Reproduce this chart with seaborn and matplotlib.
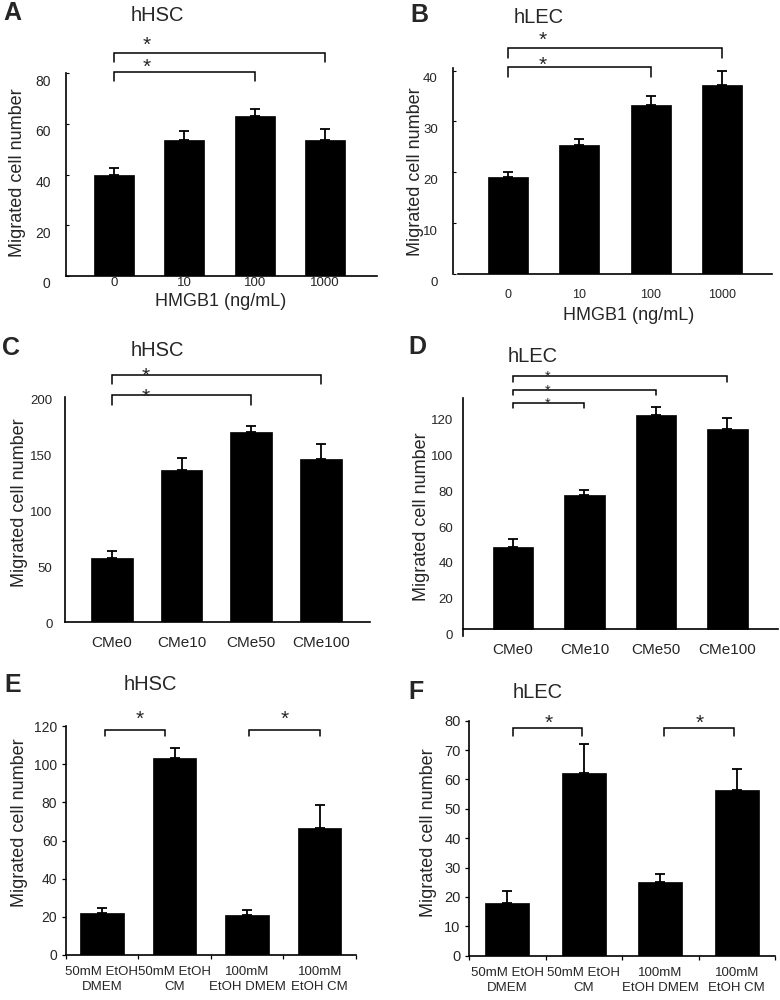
import numpy as np
import matplotlib
matplotlib.use("Agg")
import matplotlib.pyplot as plt
import matplotlib.transforms as mtransforms
import seaborn as sns

# ---------------- data ----------------
hmgb1_labels = ['0', '10', '100', '1000']
cme_labels = ['CMe0', 'CMe10', 'CMe50', 'CMe100']
etoh_labels = ['50mM EtOH\nDMEM', '50mM EtOH\nCM', '100mM\nEtOH DMEM', '100mM\nEtOH CM']

a_vals = [40, 53.5, 63, 53.5]
a_err = [2.4, 3.6, 3.0, 4.3]
b_vals = [19, 25.3, 33.2, 37.2]
b_err = [1.0, 1.3, 1.7, 2.7]
c_vals = [57, 135, 169, 145]
c_err = [5.5, 11, 5.5, 13.5]
d_vals = [46, 75, 120, 112]
d_err = [4.3, 3.2, 4.3, 6.4]
e_vals = [22.2, 103, 20.8, 66.4]
e_err = [2.3, 5.6, 2.8, 12.3]
f_vals = [18, 62.3, 25.2, 56.4]
f_err = [4.1, 9.8, 2.6, 7.3]

a_yticks = [0, 20, 40, 60, 80]
b_yticks = [0, 10, 20, 30, 40]
c_yticks = [0, 50, 100, 150, 200]
d_yticks = [0, 20, 40, 60, 80, 100, 120]
e_yticks = [0, 20, 40, 60, 80, 100, 120]
f_yticks = [0, 10, 20, 30, 40, 50, 60, 70, 80]

# ---------------- style ----------------
sns.set_theme(style='white')
plt.rcParams['font.family'] = ['Liberation Sans', 'DejaVu Sans']

W, H = 780, 1000
fig = plt.figure(figsize=(W / 100, H / 100), dpi=100)
fig.patch.set_facecolor('white')


def fx(x):
    return x / W


def fy(y):
    return 1 - y / H


def make_ax(l, r, t, b):
    return fig.add_axes([fx(l), fy(b), (r - l) / W, (b - t) / H])


def draw_panel(ax, cats, vals, errs, width, xlim, ylim, yticks, ytick_fs, xtick_fs):
    sns.barplot(x=cats, y=vals, ax=ax, color='black', saturation=1,
                width=width, errorbar=None, edgecolor='black', linewidth=0.5)
    pos = np.arange(len(vals))
    ax.errorbar(pos, vals, yerr=[np.zeros(len(errs)), errs], fmt='none',
                ecolor='black', elinewidth=1.3, capsize=3.4, capthick=1.3, zorder=3)
    ax.set_xlim(*xlim)
    ax.set_ylim(*ylim)
    ax.set_yticks(yticks)
    ax.set_yticklabels([str(v) for v in yticks], fontsize=ytick_fs)
    ax.set_xlabel('')
    ax.set_ylabel('')
    for s in ['top', 'right']:
        ax.spines[s].set_visible(False)
    for s in ['left', 'bottom']:
        ax.spines[s].set_color('black')
        ax.spines[s].set_linewidth(1.2)
    ax.set_facecolor('none')
    for lab in ax.get_xticklabels():
        lab.set_fontsize(xtick_fs)


def bracket(ax, x0, x1, ytop, ybot, sx, sy, fs=15):
    ax.plot([x0, x0, x1, x1], [ybot, ytop, ytop, ybot], color='black',
            lw=1.1, clip_on=False, solid_joinstyle='miter')
    ax.annotate('*', xy=(sx, sy), xytext=(0, -0.58 * fs), textcoords='offset points',
                ha='center', va='baseline', fontsize=fs, annotation_clip=False)


def shift_yticklabels(ax, px):
    off = mtransforms.ScaledTranslation(0, -px / 100, fig.dpi_scale_trans)
    for tick in ax.yaxis.get_major_ticks():
        tick.label1.set_transform(tick.label1.get_transform() + off)


# ---------------- Panel A ----------------
axA = make_ax(66, 377, 73, 276)
draw_panel(axA, hmgb1_labels, a_vals, a_err, 0.57, (-0.683, 3.74), (0, 80), a_yticks, 10, 9.5)
axA.tick_params(axis='y', direction='in', length=2.5, width=0.8, color='black', pad=11, left=True)
axA.tick_params(axis='x', length=0, pad=1, bottom=True)
bracket(axA, 0, 3, 87.9, 84.3, 0.47, 93.6)
bracket(axA, 0, 2, 80.4, 76.8, 0.47, 85.0)
shift_yticklabels(axA, 7)

# ---------------- Panel B ----------------
axB = make_ax(453, 772, 68, 274)
draw_panel(axB, hmgb1_labels, b_vals, b_err, 0.56, (-0.77, 3.70), (0, 40.5), b_yticks, 9.5, 9)
axB.tick_params(axis='y', direction='in', length=2.5, width=0.8, color='black', pad=11, left=True)
axB.tick_params(axis='x', length=0, pad=11, bottom=True)
axB.spines['bottom'].set_bounds(-0.70, 3.70)
bracket(axB, 0, 3, 44.4, 42.5, 0.49, 47.3)
bracket(axB, 0, 2, 40.6, 38.8, 0.49, 42.4)
shift_yticklabels(axB, 7)

# ---------------- Panel C ----------------
axC = make_ax(65, 370, 397, 621.7)
draw_panel(axC, cme_labels, c_vals, c_err, 0.6, (-0.67, 3.7), (0, 200), c_yticks, 9.5, 11)
axC.tick_params(axis='y', length=0, pad=9, left=True)
axC.tick_params(axis='x', length=0, pad=10, bottom=True)
bracket(axC, 0, 3, 219.9, 211.9, 0.48, 224.4)
bracket(axC, 0, 2, 201.5, 193.2, 0.48, 205.6)
shift_yticklabels(axC, 2)

# ---------------- Panel D ----------------
axD = make_ax(463, 778, 398, 636.3)
draw_panel(axD, cme_labels, d_vals, d_err, 0.57, (-0.70, 3.71), (-3.9, 129.5), d_yticks, 9.5, 11.5)
axD.spines['bottom'].set_position(('data', 0))
axD.tick_params(axis='y', length=0, pad=7, left=True)
axD.tick_params(axis='x', length=0, pad=10, bottom=True)
bracket(axD, 0, 3, 141.7, 138.5, 0.49, 143.6, fs=10.5)
bracket(axD, 0, 2, 134.2, 131.0, 0.49, 136.1, fs=10.5)
bracket(axD, 0, 1, 126.7, 123.9, 0.49, 128.6, fs=10.5)
shift_yticklabels(axD, 5)

# ---------------- Panel E ----------------
axE = make_ax(65.7, 356, 726, 955)
draw_panel(axE, etoh_labels, e_vals, e_err, 0.6, (-0.5, 3.5), (0, 120), e_yticks, 10, 10)
axE.tick_params(axis='y', direction='out', length=3, width=0.9, color='black', pad=3, left=True)
axE.set_xticks([-0.5, 0.5, 1.5, 2.5, 3.5])
axE.set_xticklabels([])
axE.set_xticks([0, 1, 2, 3], minor=True)
axE.set_xticklabels(etoh_labels, minor=True, fontsize=9.5, linespacing=1.35)
axE.tick_params(axis='x', which='major', direction='out', length=3, width=0.9, color='black', bottom=True)
axE.tick_params(axis='x', which='minor', length=0, pad=8, bottom=True)
bracket(axE, 0.04, 0.87, 118, 115, 0.52, 126.7)
bracket(axE, 2.03, 3.0, 118, 115, 2.52, 126.7)

# ---------------- Panel F ----------------
axF = make_ax(469, 775, 720.7, 955.7)
draw_panel(axF, etoh_labels, f_vals, f_err, 0.58, (-0.5, 3.5), (0, 80), f_yticks, 10.5, 10)
axF.tick_params(axis='y', direction='out', length=3, width=0.9, color='black', pad=3, left=True)
axF.set_xticks([-0.5, 0.5, 1.5, 2.5, 3.5])
axF.set_xticklabels([])
axF.set_xticks([0, 1, 2, 3], minor=True)
axF.set_xticklabels(etoh_labels, minor=True, fontsize=9.5, linespacing=1.35)
axF.tick_params(axis='x', which='major', direction='out', length=3, width=0.9, color='black', bottom=True)
axF.tick_params(axis='x', which='minor', length=0, pad=8, bottom=True)
bracket(axF, 0.07, 0.98, 77.4, 74.9, 0.54, 81.4)
bracket(axF, 2.05, 2.97, 77.4, 74.9, 2.51, 81.4)

# ---------------- figure texts ----------------
letters = [('A', 3, 13), ('B', 410, 15), ('C', 2, 348), ('D', 408, 347), ('E', 4, 685), ('F', 408, 692)]
for t, x, y in letters:
    fig.text(fx(x), fy(y), t, fontsize=18, fontweight='bold', ha='left', va='center')

titles = [('hHSC', 157, 15.5), ('hLEC', 539, 17.5), ('hHSC', 157, 350),
          ('hLEC', 533, 356), ('hHSC', 150, 685), ('hLEC', 538, 692)]
for t, x, y in titles:
    fig.text(fx(x), fy(y), t, fontsize=14.5, ha='center', va='center')

ylabs = [(18, 173), (415, 172), (20, 503), (422, 517), (20, 823), (428, 833)]
for x, y in ylabs:
    fig.text(fx(x), fy(y), 'Migrated cell number', fontsize=13, rotation=90,
             ha='center', va='center')

for x, y in [(221, 302), (629, 315)]:
    fig.text(fx(x), fy(y), 'HMGB1 (ng/mL)', fontsize=13, ha='center', va='center')

fig.savefig('out.png', dpi=100, facecolor='white')
